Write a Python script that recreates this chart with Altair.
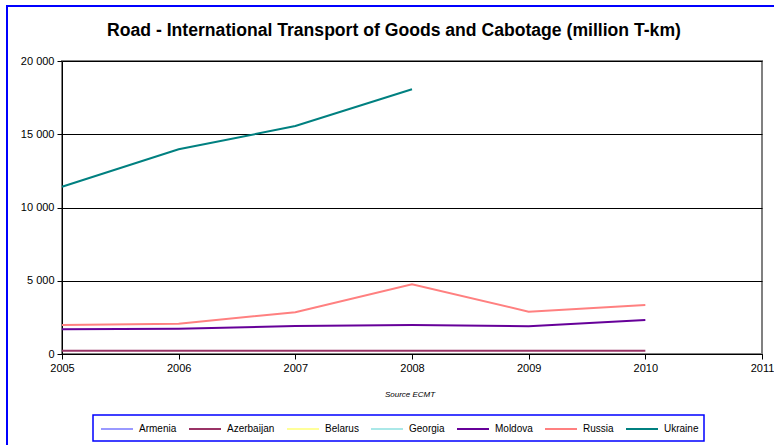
import altair as alt
import pandas as pd

years = [2005, 2006, 2007, 2008, 2009, 2010]
countries = ["Armenia", "Azerbaijan", "Belarus", "Georgia", "Moldova", "Russia", "Ukraine"]
colors = ["#9999FF", "#993366", "#FFFF99", "#AAE8E8", "#660099", "#FF8080", "#008080"]
armenia = [None, None, None, None, None, None]
azerbaijan = [220, 220, 220, 220, 220, 220]
belarus = [None, None, None, None, None, None]
georgia = [None, None, None, None, None, None]
moldova = [1690, 1730, 1910, 1980, 1890, 2320]
russia = [1980, 2070, 2850, 4760, 2890, 3340]
ukraine = [11420, 13970, 15560, 18070, None, None]

series = dict(zip(countries, [armenia, azerbaijan, belarus, georgia, moldova, russia, ukraine]))
rows = []
for c, vals in series.items():
    for y, v in zip(years, vals):
        rows.append({"Year": y, "Country": c, "Value": v})
df = pd.DataFrame(rows)

W, H = 700, 293
L, T = 62, 61

base = alt.Chart(df)

lines = base.mark_line(strokeWidth=2).encode(
    x=alt.X("Year:Q", scale=alt.Scale(domain=[2005, 2011], nice=False, zero=False),
            axis=alt.Axis(values=[2005, 2006, 2007, 2008, 2009, 2010, 2011], format="d",
                          title=None, grid=False, domainColor="#000000", tickColor="#000000",
                          tickSize=5, labelFontSize=11, labelColor="#000000",
                          labelFont="Liberation Sans", labelPadding=3, labelFlush=False)),
    y=alt.Y("Value:Q", scale=alt.Scale(domain=[0, 20000], nice=False),
            axis=alt.Axis(values=[0, 5000, 10000, 15000, 20000],
                          labelExpr="replace(format(datum.value, ','), ',', ' ')",
                          title=None, grid=True, gridColor="#000000", gridWidth=1,
                          domainColor="#000000", tickColor="#000000", tickSize=5,
                          labelFontSize=11, labelColor="#000000", labelFont="Liberation Sans",
                          labelPadding=3)),
    color=alt.Color("Country:N", sort=countries,
                    scale=alt.Scale(domain=countries, range=colors),
                    legend=alt.Legend(orient="none", legendX=100 - L, legendY=412 - T,
                                      direction="horizontal", columns=7, title=None,
                                      symbolType="stroke", symbolStrokeWidth=2, symbolSize=1024,
                                      labelFontSize=10, labelFont="Liberation Sans",
                                      labelColor="#000000", columnPadding=8, labelOffset=5,
                                      padding=0, symbolOffset=0)),
    detail="Country:N",
)

title_df = pd.DataFrame({"t": ["Road - International Transport of Goods and Cabotage (million T-km)"]})
title = alt.Chart(title_df).mark_text(fontSize=17.6, fontWeight="bold", font="Liberation Sans",
                                       color="#000000", baseline="alphabetic").encode(
    text="t:N", x=alt.value(394 - L), y=alt.value(36 - T))

src_df = pd.DataFrame({"t": ["Source ECMT"]})
source = alt.Chart(src_df).mark_text(fontSize=8, fontStyle="italic", font="Liberation Sans",
                                      color="#000000").encode(
    text="t:N", x=alt.value(410 - L), y=alt.value(395 - T))

frame_df = pd.DataFrame({"a": [0]})
left_border = alt.Chart(frame_df).mark_rule(color="#0000FF", strokeWidth=2).encode(
    x=alt.value(7 - L), y=alt.value(5 - T), y2=alt.value(445 - T))
top_border = alt.Chart(frame_df).mark_rule(color="#0000FF", strokeWidth=2).encode(
    x=alt.value(6 - L), x2=alt.value(774 - L), y=alt.value(6 - T))
legend_box = alt.Chart(frame_df).mark_rect(fill=None, stroke="#0000FF", strokeWidth=1.5).encode(
    x=alt.value(93 - L), x2=alt.value(704 - L), y=alt.value(415 - T), y2=alt.value(441 - T))

chart = alt.layer(left_border, top_border, legend_box, title, source, lines).properties(
    width=W, height=H,
    padding={"left": L, "top": T, "right": 774 - L - W, "bottom": 445 - T - H},
    autosize=alt.AutoSizeParams(type="none"),
    background="#FFFFFF",
).configure_view(stroke="#808080", strokeWidth=2)

chart.save("out.html", embed_options={"renderer": "svg", "actions": False})
